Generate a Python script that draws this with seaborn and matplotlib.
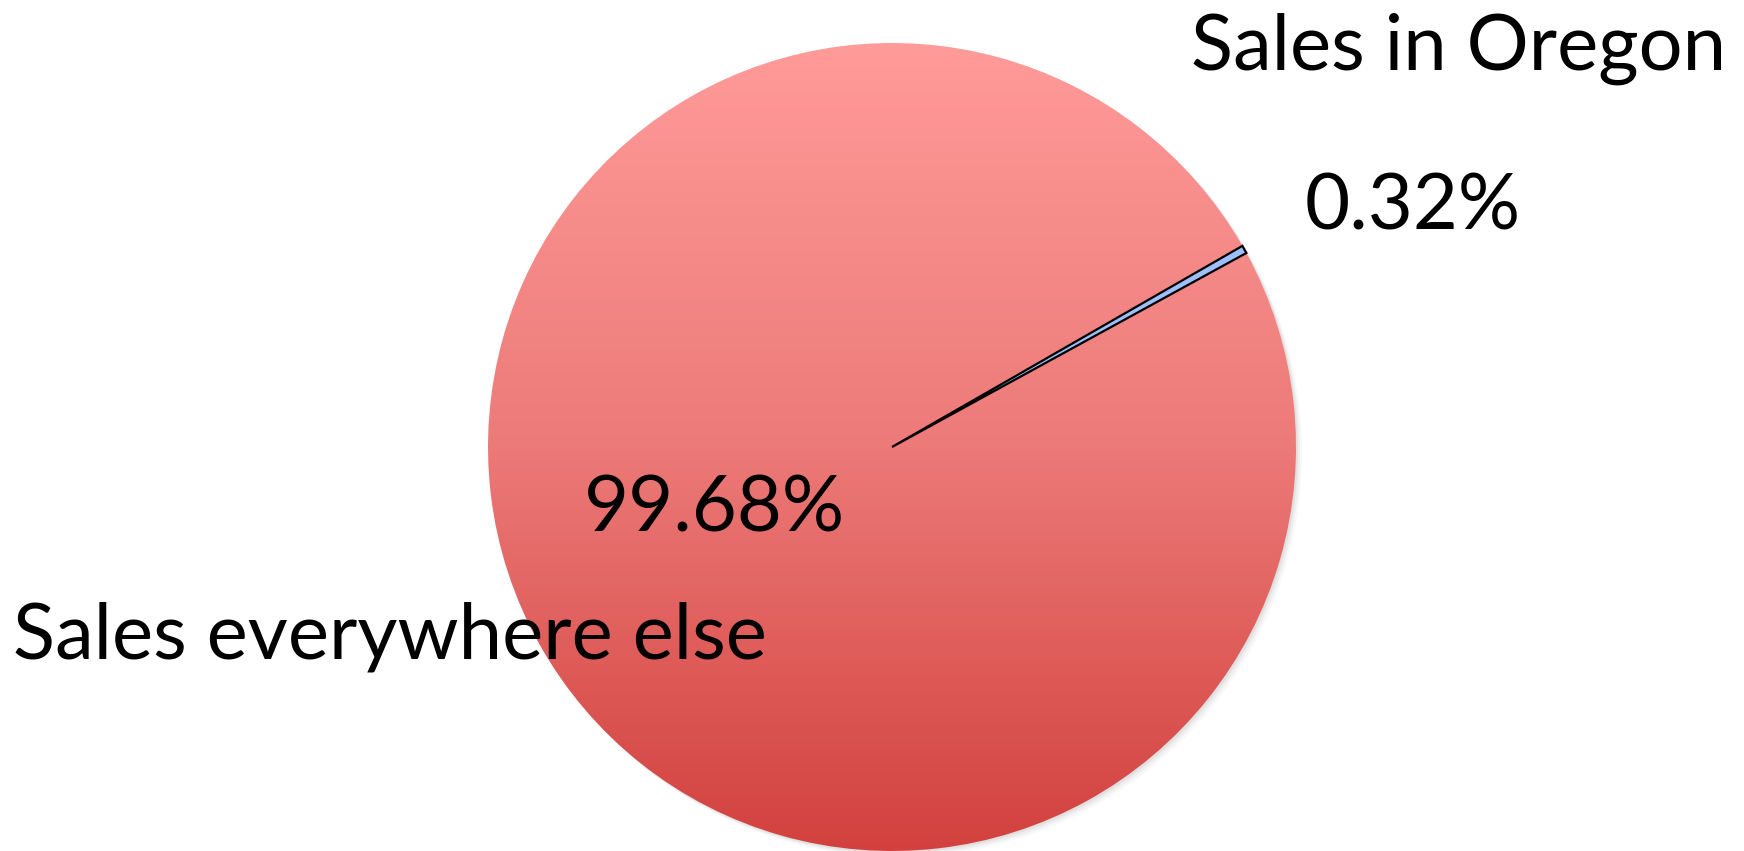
import numpy as np
import matplotlib
matplotlib.use("Agg")
import matplotlib.pyplot as plt
import seaborn as sns
from matplotlib.colors import LinearSegmentedColormap
from matplotlib.patches import Circle

categories = ["Sales in Oregon", "Sales everywhere else"]
shares = [0.32, 99.68]
pct_labels = [f"{v:.2f}%" for v in shares]

sns.set_theme(style="white")
plt.rcParams['font.family'] = ['Lato', 'DejaVu Sans']

W, H = 1744, 851
fig = plt.figure(figsize=(W / 100, H / 100), dpi=100)
ax = fig.add_axes([0, 0, 1, 1])

# pie geometry in pixels (y up)
cx, cy, r = 892, H - 447, 404

# soft shadow to the lower right
for k, a in [(6, 0.05), (4, 0.08), (2, 0.12)]:
    ax.add_patch(Circle((cx + k, cy - k), r, color="#808080", alpha=a, lw=0, zorder=0))

wedges, _ = ax.pie(shares, startangle=28.7, counterclock=True,
                   center=(cx, cy), radius=r,
                   colors=["#9dc0fc", "none"],
                   wedgeprops=dict(linewidth=0),
                   frame=True)
wedges[0].set_edgecolor("black")
wedges[0].set_linewidth(1.6)
wedges[0].set_zorder(3)
wedges[1].set_edgecolor("none")

# vertical gradient for the big slice
cmap = LinearSegmentedColormap.from_list(
    "grad", [(0, "#ff9b99"), (0.5, "#ec7a78"), (1, "#d2413e")])
grad = np.linspace(0, 1, 256).reshape(-1, 1)
im = ax.imshow(grad, cmap=cmap, aspect="auto",
               extent=(cx - r, cx + r, cy - r, cy + r), origin="upper", zorder=1)
im.set_clip_path(wedges[1])

ax.set_xlim(0, W)
ax.set_ylim(0, H)
ax.set_aspect("auto")
ax.set_axis_off()

fs = 56
kw = dict(fontsize=fs, ha="left", va="baseline", color="black", zorder=5)
ax.text(1191, H - 70, categories[0], **kw)
ax.text(1305, H - 230, pct_labels[0], **kw)
ax.text(584, H - 532, pct_labels[1], **kw)
ax.text(13, H - 658, categories[1], **kw)

fig.savefig("out.png", dpi=100)
